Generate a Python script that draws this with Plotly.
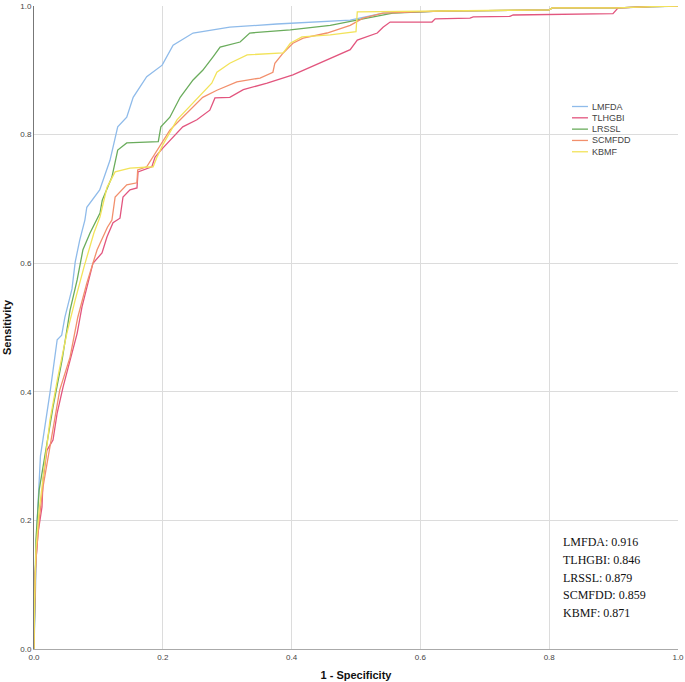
import plotly.graph_objects as go

# ROC curve points (1 - specificity, sensitivity)
lmfda_x = [0, 0.002, 0.005, 0.010, 0.017, 0.025, 0.036, 0.043, 0.048, 0.059, 0.064, 0.071, 0.079, 0.082,
           0.102, 0.118, 0.130, 0.144, 0.154, 0.175, 0.199, 0.216, 0.247, 0.304, 0.377, 0.491, 0.542,
           0.630, 0.800, 0.805, 0.905, 0.960, 1.0]
lmfda_y = [0, 0.10, 0.20, 0.30, 0.345, 0.40, 0.481, 0.488, 0.516, 0.56, 0.602, 0.636, 0.667, 0.687,
           0.714, 0.76, 0.812, 0.827, 0.858, 0.89, 0.908, 0.939, 0.958, 0.967, 0.972, 0.978, 0.989,
           0.992, 0.994, 0.997, 0.997, 0.999, 1.0]

tlhgbi_x = [0, 0.0016, 0.0062, 0.0124, 0.014, 0.020, 0.0295, 0.036, 0.045, 0.056, 0.067, 0.0745, 0.084,
            0.0916, 0.1056, 0.1134, 0.1227, 0.1335, 0.1382, 0.149, 0.1599, 0.1615, 0.183, 0.188, 0.200,
            0.216, 0.231, 0.253, 0.273, 0.281, 0.304, 0.325, 0.362, 0.402, 0.449, 0.491, 0.502, 0.533,
            0.542, 0.553, 0.618, 0.623, 0.677, 0.682, 0.739, 0.744, 0.899, 0.907, 0.930, 0.957, 0.964, 1.0]
tlhgbi_y = [0, 0.118, 0.180, 0.221, 0.263, 0.309, 0.325, 0.367, 0.407, 0.449, 0.491, 0.532, 0.569,
            0.600, 0.616, 0.641, 0.663, 0.670, 0.703, 0.714, 0.717, 0.742, 0.750, 0.765, 0.779,
            0.796, 0.812, 0.823, 0.838, 0.857, 0.858, 0.870, 0.880, 0.893, 0.913, 0.932, 0.947, 0.958,
            0.967, 0.975, 0.975, 0.980, 0.981, 0.983, 0.984, 0.986, 0.988, 0.997, 0.998, 0.999, 1.0, 1.0]

lrssl_x = [0, 0.001, 0.003, 0.008, 0.014, 0.0295, 0.0435, 0.056, 0.067, 0.076, 0.087, 0.1025, 0.106,
           0.121, 0.130, 0.144, 0.193, 0.197, 0.211, 0.227, 0.247, 0.262, 0.278, 0.289, 0.320, 0.335,
           0.398, 0.460, 0.517, 0.557, 0.630, 0.800, 0.805, 0.905, 0.960, 1.0]
lrssl_y = [0, 0.076, 0.170, 0.247, 0.283, 0.376, 0.449, 0.527, 0.574, 0.621, 0.647, 0.678, 0.698,
           0.734, 0.776, 0.787, 0.789, 0.812, 0.827, 0.858, 0.885, 0.900, 0.921, 0.936, 0.944, 0.958,
           0.963, 0.970, 0.981, 0.989, 0.992, 0.994, 0.997, 0.997, 0.999, 1.0]

scmfdd_x = [0, 0.0008, 0.003, 0.008, 0.014, 0.028, 0.040, 0.056, 0.068, 0.082, 0.098, 0.114, 0.121,
            0.126, 0.144, 0.1599, 0.161, 0.175, 0.191, 0.211, 0.227, 0.247, 0.262, 0.284, 0.315, 0.351,
            0.371, 0.374, 0.387, 0.402, 0.418, 0.455, 0.491, 0.511, 0.542, 0.630, 0.800, 0.805, 0.905,
            0.960, 1.0]
scmfdd_y = [0, 0.061, 0.138, 0.201, 0.252, 0.336, 0.403, 0.454, 0.516, 0.569, 0.621, 0.656, 0.667,
            0.703, 0.722, 0.725, 0.745, 0.750, 0.776, 0.807, 0.823, 0.843, 0.858, 0.869, 0.882, 0.888,
            0.897, 0.911, 0.927, 0.942, 0.950, 0.958, 0.970, 0.981, 0.989, 0.992, 0.994, 0.997, 0.997,
            0.999, 1.0]

kbmf_x = [0, 0.0008, 0.003, 0.008, 0.0124, 0.0248, 0.037, 0.051, 0.064, 0.0776, 0.093, 0.1025, 0.1134,
          0.126, 0.149, 0.185, 0.191, 0.200, 0.222, 0.247, 0.276, 0.284, 0.304, 0.331, 0.387, 0.398,
          0.416, 0.460, 0.500, 0.502, 0.630, 0.800, 0.805, 0.905, 0.960, 1.0]
kbmf_y = [0, 0.076, 0.154, 0.216, 0.252, 0.356, 0.423, 0.491, 0.543, 0.594, 0.647, 0.672, 0.718,
          0.742, 0.748, 0.750, 0.765, 0.784, 0.823, 0.849, 0.880, 0.897, 0.911, 0.924, 0.927, 0.942,
          0.952, 0.955, 0.960, 0.991, 0.992, 0.994, 0.997, 0.997, 0.999, 1.0]

series_names = ["LMFDA", "TLHGBI", "LRSSL", "SCMFDD", "KBMF"]
series_x = [lmfda_x, tlhgbi_x, lrssl_x, scmfdd_x, kbmf_x]
series_y = [lmfda_y, tlhgbi_y, lrssl_y, scmfdd_y, kbmf_y]
auc_values = ["0.916", "0.846", "0.879", "0.859", "0.871"]
colors = ["#8fbbea", "#e2557e", "#6aac5c", "#f28f6c", "#f2e35a"]

tick_vals = [0.0, 0.2, 0.4, 0.6, 0.8, 1.0]
tick_text = ["0.0", "0.2", "0.4", "0.6", "0.8", "1.0"]

fig = go.Figure()
for name, xs, ys, c in zip(series_names, series_x, series_y, colors):
    fig.add_trace(go.Scatter(x=xs, y=ys, mode="lines", name=name, showlegend=False,
                             line=dict(color=c, width=1.3)))

# compact legend (line sample + label) in paper coordinates
for i, (name, c) in enumerate(zip(series_names, colors)):
    ly = 0.8437 - 0.0176 * i
    fig.add_shape(type="line", xref="paper", yref="paper", x0=0.8354, x1=0.8602, y0=ly, y1=ly,
                  line=dict(color=c, width=1.3))
    fig.add_annotation(x=0.8634, y=ly, xref="paper", yref="paper", xanchor="left", yanchor="middle",
                       showarrow=False, text=name,
                       font=dict(family="Liberation Sans", size=9, color="#444"))

# AUC values text block
for i, (name, auc) in enumerate(zip(series_names, auc_values)):
    fig.add_annotation(x=0.818, y=0.166 - i * 0.0275, xref="paper", yref="paper",
                       xanchor="left", yanchor="middle", showarrow=False,
                       text=f"{name}: {auc}",
                       font=dict(family="Liberation Serif", size=12, color="#111"))

fig.update_layout(
    width=685, height=682,
    margin=dict(l=34, r=7, t=6, b=33),
    paper_bgcolor="white", plot_bgcolor="white",
    font=dict(family="Liberation Sans", size=8, color="#444"),
    showlegend=False,
    xaxis=dict(range=[0, 1], tickvals=tick_vals, ticktext=tick_text,
               showgrid=True, gridcolor="#dcdcdc", gridwidth=1,
               showline=True, linecolor="#aaaaaa", linewidth=1,
               zeroline=False, ticks="", automargin=False,
               title=dict(text="<b>1 - Specificity</b>", font=dict(size=11, color="#111"), standoff=10)),
    yaxis=dict(range=[0, 1], tickvals=tick_vals, ticktext=tick_text,
               showgrid=True, gridcolor="#dcdcdc", gridwidth=1,
               showline=True, linecolor="#777777", linewidth=1,
               zeroline=False, ticks="", automargin=False,
               title=dict(text="<b>Sensitivity</b>", font=dict(size=11, color="#111"), standoff=6)),
)

fig.write_html("out.html", config={"displayModeBar": False},
               post_script="document.body.style.margin='0';")
